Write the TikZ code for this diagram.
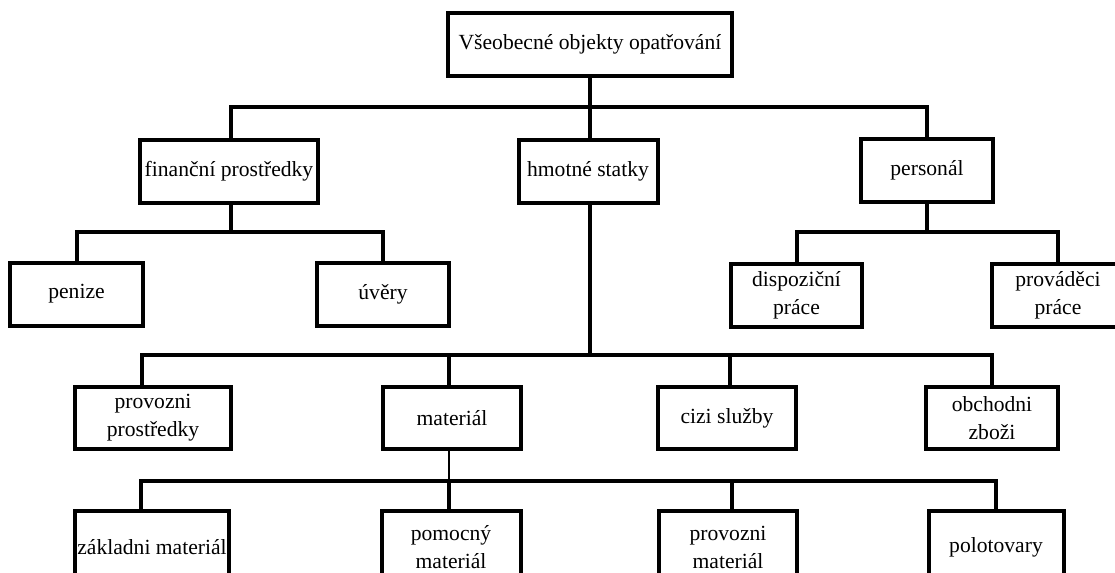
\documentclass[tikz,border=0pt]{standalone}
\usepackage{fontspec}
\setmainfont{Liberation Serif}
\begin{document}
\begin{tikzpicture}[x=0.75pt,y=-0.75pt,
  box/.style 2 args={draw, line width=3pt, fill=white, align=center,
    inner sep=0pt, minimum width=#1*0.75pt, minimum height=#2*0.75pt,
    font=\fontsize{16.2pt}{21pt}\selectfont},
  link/.style={line width=3pt},
  thinlink/.style={line width=0.9pt}]
\useasboundingbox (0,0) rectangle (1115,572);
\fill[white] (0,0) rectangle (1115,572);
\clip (0,0) rectangle (1115,572);

% root
\node[box={284}{63}] (root) at (590,44.5) {Všeobecné objekty opatřování};

% second level
\node[box={178}{63}] (fin) at (229,171) {finanční prostředky};
\node[box={139}{63}] (hm)  at (588,171) {hmotné statky};
\node[box={132}{63}] (per) at (927,170) {personál};

% children of financni prostredky and personal
\node[box={133}{63}] (pen) at (76.5,294) {penize};
\node[box={132}{63}] (uv)  at (383,294) {úvěry};
\node[box={131}{63}] (dis) at (796.5,295) {dispoziční\\práce};
\node[box={132}{63}] (pro) at (1058,295) {prováděci\\práce};

% children of hmotne statky
\node[box={156}{62}] (pp)  at (153,418) {provozni\\prostředky};
\node[box={138}{62}] (mat) at (452,418) {materiál};
\node[box={138}{62}] (cs)  at (727,418) {cizi služby};
\node[box={132}{62}] (ob)  at (992,418) {obchodni\\zboži};

% children of material (running past the lower edge)
\node[box={154}{72}] (zm)  at (152,547) {základni materiál};
\node[box={139}{72}] (pm)  at (451,547) {pomocný\\materiál};
\node[box={138}{72}] (prm) at (728,547) {provozni\\materiál};
\node[box={135}{72}] (pol) at (996,547) {polotovary};

% bus coordinates
\coordinate (b1) at (590,107);
\coordinate (b2) at (0,232);
\coordinate (b3) at (0,355);
\coordinate (b4) at (0,481);

% root to second level
\draw[link] (root.south -| b1) -- (b1);
\draw[link] ([xshift=2*0.75pt]fin.north) |- (b1) -| (per.north);
\draw[link] (b1) -- (hm.north -| b1);

% financni prostredky
\draw[link] ([xshift=2*0.75pt]fin.south) -- ([xshift=2*0.75pt]fin.south |- b2);
\draw[link] (pen.north) |- (b2 -| uv.north) -- (uv.north);
% personal
\draw[link] (per.south) -- (per.south |- b2);
\draw[link] (dis.north) |- (b2 -| pro.north) -- (pro.north);

% hmotne statky
\draw[link] (hm.south -| b1) -- (b1 |- b3);
\draw[link] ([xshift=-11*0.75pt]pp.north) |- (b3 -| ob.north) -- (ob.north);
\draw[link] ([xshift=-3*0.75pt]mat.north) -- ([xshift=-3*0.75pt]mat.north |- b3);
\draw[link] ([xshift=3*0.75pt]cs.north) -- ([xshift=3*0.75pt]cs.north |- b3);

% material
\draw[thinlink] ([xshift=-3*0.75pt]mat.south) -- ([xshift=-3*0.75pt]mat.south |- b4);
\draw[link] ([xshift=-11*0.75pt]zm.north) |- (b4 -| pol.north) -- (pol.north);
\draw[link] ([xshift=-2*0.75pt]pm.north) -- ([xshift=-2*0.75pt]pm.north |- b4);
\draw[link] ([xshift=4*0.75pt]prm.north) -- ([xshift=4*0.75pt]prm.north |- b4);
\end{tikzpicture}
\end{document}
